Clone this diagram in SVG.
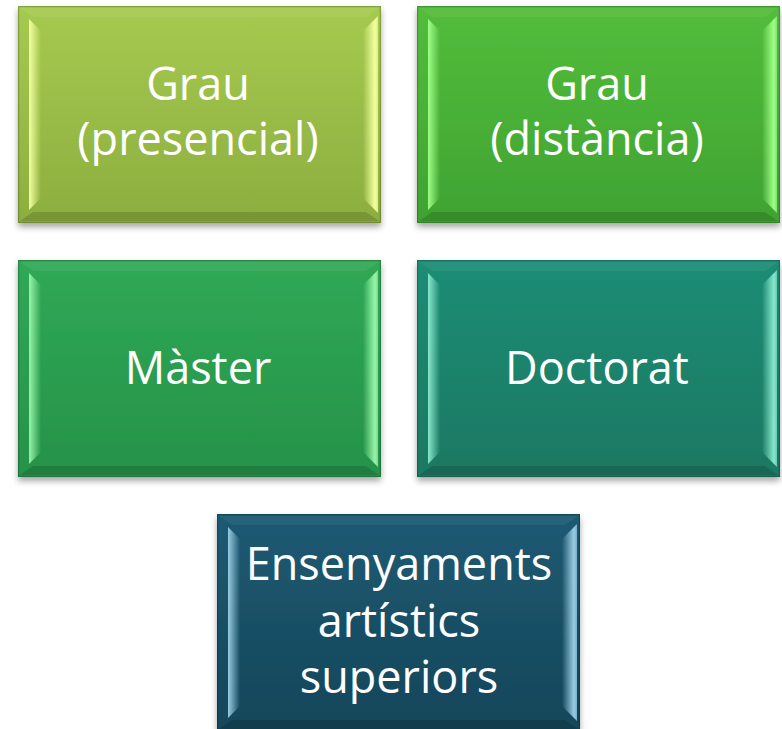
<svg xmlns="http://www.w3.org/2000/svg" width="782" height="729" viewBox="0 0 782 729">
<defs>
<filter id="sh" x="-5%" y="-5%" width="110%" height="115%">
<feDropShadow dx="0" dy="4" stdDeviation="3" flood-color="#000" flood-opacity="0.35"/>
</filter>
<linearGradient id="g1" x1="0" y1="0" x2="0" y2="1"><stop offset="0" stop-color="#a6ca50"/><stop offset="1" stop-color="#8cae3f"/></linearGradient>
<linearGradient id="g2" x1="0" y1="0" x2="0" y2="1"><stop offset="0" stop-color="#53bd3b"/><stop offset="1" stop-color="#3fa332"/></linearGradient>
<linearGradient id="g3" x1="0" y1="0" x2="0" y2="1"><stop offset="0" stop-color="#30a955"/><stop offset="1" stop-color="#26924a"/></linearGradient>
<linearGradient id="g4" x1="0" y1="0" x2="0" y2="1"><stop offset="0" stop-color="#1f8d75"/><stop offset="1" stop-color="#1a7862"/></linearGradient>
<linearGradient id="g5" x1="0" y1="0" x2="0" y2="1"><stop offset="0" stop-color="#1c5a73"/><stop offset="1" stop-color="#164659"/></linearGradient>
<linearGradient id="l1" x1="0" y1="0" x2="1" y2="0"><stop offset="0" stop-color="#f4ffa0"/><stop offset="1" stop-color="#f4ffa0" stop-opacity="0"/></linearGradient>
<linearGradient id="r1" x1="0" y1="0" x2="1" y2="0"><stop offset="0" stop-color="#f4ffa0" stop-opacity="0"/><stop offset="0.8" stop-color="#f4ffa0"/><stop offset="1" stop-color="#d8f080"/></linearGradient>
<linearGradient id="l2" x1="0" y1="0" x2="1" y2="0"><stop offset="0" stop-color="#a0ff88"/><stop offset="1" stop-color="#a0ff88" stop-opacity="0"/></linearGradient>
<linearGradient id="r2" x1="0" y1="0" x2="1" y2="0"><stop offset="0" stop-color="#a0ff88" stop-opacity="0"/><stop offset="0.8" stop-color="#a0ff88"/><stop offset="1" stop-color="#80e070"/></linearGradient>
<linearGradient id="l3" x1="0" y1="0" x2="1" y2="0"><stop offset="0" stop-color="#98f5a8"/><stop offset="1" stop-color="#98f5a8" stop-opacity="0"/></linearGradient>
<linearGradient id="r3" x1="0" y1="0" x2="1" y2="0"><stop offset="0" stop-color="#98f5a8" stop-opacity="0"/><stop offset="0.8" stop-color="#98f5a8"/><stop offset="1" stop-color="#78d890"/></linearGradient>
<linearGradient id="l4" x1="0" y1="0" x2="1" y2="0"><stop offset="0" stop-color="#88e8cc"/><stop offset="1" stop-color="#88e8cc" stop-opacity="0"/></linearGradient>
<linearGradient id="r4" x1="0" y1="0" x2="1" y2="0"><stop offset="0" stop-color="#88e8cc" stop-opacity="0"/><stop offset="0.8" stop-color="#88e8cc"/><stop offset="1" stop-color="#68c8b0"/></linearGradient>
<linearGradient id="l5" x1="0" y1="0" x2="1" y2="0"><stop offset="0" stop-color="#98cce2"/><stop offset="1" stop-color="#98cce2" stop-opacity="0"/></linearGradient>
<linearGradient id="r5" x1="0" y1="0" x2="1" y2="0"><stop offset="0" stop-color="#98cce2" stop-opacity="0"/><stop offset="0.8" stop-color="#98cce2"/><stop offset="1" stop-color="#78b0c8"/></linearGradient>
</defs>
<style>
.box{filter:url(#sh);}
.top{fill:#fff;fill-opacity:0.06;}
.bot{fill:#000;fill-opacity:0.14;}
.edge{fill:none;stroke:#000;stroke-opacity:0.2;stroke-width:1.2;}
.t{font-family:"Open Sans","Liberation Sans",sans-serif;font-size:45px;fill:#fff;text-anchor:middle;}
</style>
<g id="grau-presencial" transform="translate(18,6)">
<rect class="box" x="0" y="0" width="363" height="217" fill="url(#g1)"/>
<polygon class="top" points="2,2 361,2 348,11 15,11"/>
<polygon class="bot" points="2,215 361,215 348,206 15,206"/>
<polygon points="11,13 23,25 23,192 11,204" fill="url(#l1)"/>
<polygon points="345,25 360,10 360,207 345,192" fill="url(#r1)"/>
<rect class="edge" x="0.6" y="0.6" width="361.8" height="215.8"/>
<text class="t" x="180" y="94">Grau</text>
<text class="t" x="180" y="149">(presencial)</text>
</g>
<g id="grau-distancia" transform="translate(417,6)">
<rect class="box" x="0" y="0" width="363" height="217" fill="url(#g2)"/>
<polygon class="top" points="2,2 361,2 348,11 15,11"/>
<polygon class="bot" points="2,215 361,215 348,206 15,206"/>
<polygon points="11,13 23,25 23,192 11,204" fill="url(#l2)"/>
<polygon points="345,25 360,10 360,207 345,192" fill="url(#r2)"/>
<rect class="edge" x="0.6" y="0.6" width="361.8" height="215.8"/>
<text class="t" x="180" y="94">Grau</text>
<text class="t" x="180" y="149">(distància)</text>
</g>
<g id="master" transform="translate(18,260)">
<rect class="box" x="0" y="0" width="363" height="217" fill="url(#g3)"/>
<polygon class="top" points="2,2 361,2 348,11 15,11"/>
<polygon class="bot" points="2,215 361,215 348,206 15,206"/>
<polygon points="11,13 23,25 23,192 11,204" fill="url(#l3)"/>
<polygon points="345,25 360,10 360,207 345,192" fill="url(#r3)"/>
<rect class="edge" x="0.6" y="0.6" width="361.8" height="215.8"/>
<text class="t" x="180" y="124">Màster</text>
</g>
<g id="doctorat" transform="translate(417,260)">
<rect class="box" x="0" y="0" width="363" height="217" fill="url(#g4)"/>
<polygon class="top" points="2,2 361,2 348,11 15,11"/>
<polygon class="bot" points="2,215 361,215 348,206 15,206"/>
<polygon points="11,13 23,25 23,192 11,204" fill="url(#l4)"/>
<polygon points="345,25 360,10 360,207 345,192" fill="url(#r4)"/>
<rect class="edge" x="0.6" y="0.6" width="361.8" height="215.8"/>
<text class="t" x="180" y="124">Doctorat</text>
</g>
<g id="ensenyaments" transform="translate(217,514)">
<rect class="box" x="0" y="0" width="363" height="217" fill="url(#g5)"/>
<polygon class="top" points="2,2 361,2 348,11 15,11"/>
<polygon class="bot" points="2,215 361,215 348,206 15,206"/>
<polygon points="11,13 23,25 23,192 11,204" fill="url(#l5)"/>
<polygon points="345,25 360,10 360,207 345,192" fill="url(#r5)"/>
<rect class="edge" x="0.6" y="0.6" width="361.8" height="215.8"/>
<text class="t" x="182" y="66">Ensenyaments</text>
<text class="t" x="182" y="123">artístics</text>
<text class="t" x="182" y="179">superiors</text>
</g>
<g id="connectors"/>
</svg>
